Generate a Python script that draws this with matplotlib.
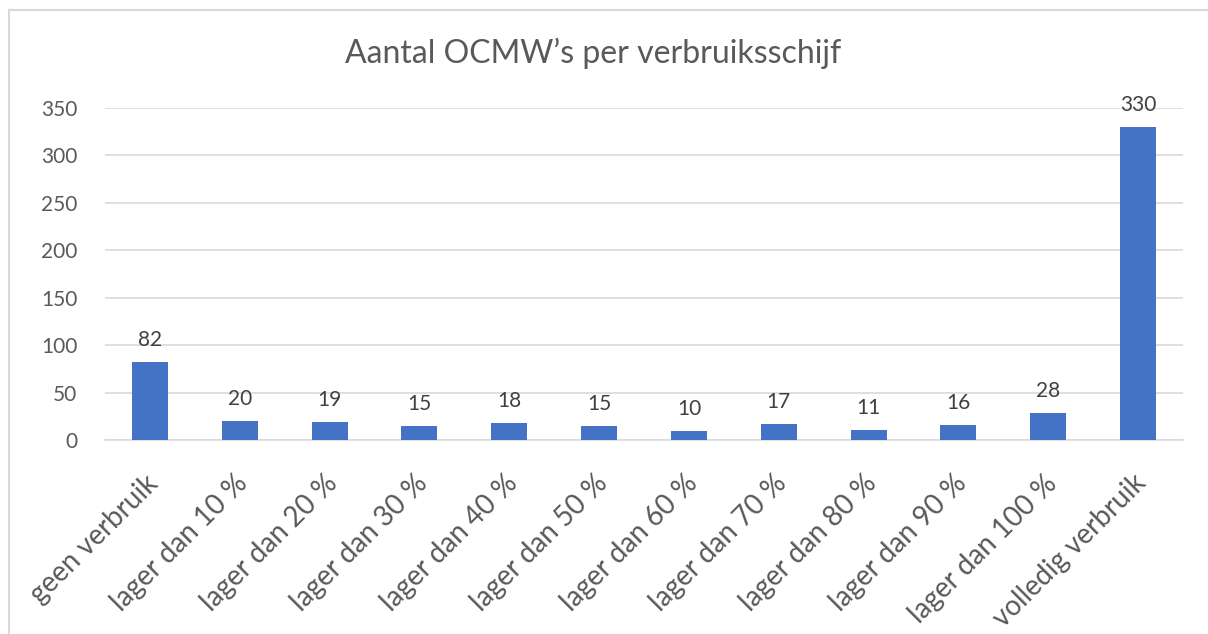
import matplotlib
matplotlib.use("Agg")
import matplotlib.pyplot as plt
from matplotlib.lines import Line2D
import matplotlib.transforms as mtransforms

categories = ["geen verbruik", "lager dan 10 %", "lager dan 20 %", "lager dan 30 %",
              "lager dan 40 %", "lager dan 50 %", "lager dan 60 %", "lager dan 70 %",
              "lager dan 80 %", "lager dan 90 %", "lager dan 100 %", "volledig verbruik"]
values = [82, 20, 19, 15, 18, 15, 10, 17, 11, 16, 28, 330]
yticks = [0, 50, 100, 150, 200, 250, 300, 350]
title = "Aantal OCMW\u2019s per verbruiksschijf"

W, H = 1208, 634
fig = plt.figure(figsize=(W / 100, H / 100), dpi=100)
plt.rcParams['font.family'] = ['Lato', 'DejaVu Sans']

ax = fig.add_axes([105 / W, 1 - 440 / H, (1183 - 105) / W, (440 - 108) / H])
x = list(range(len(categories)))
ax.bar(x, values, width=0.4, color="#4472C4", zorder=3)
ax.set_xlim(-0.5, len(categories) - 0.5)
ax.set_ylim(0, 350)
ax.set_yticks(yticks)
ax.set_yticklabels([str(t) for t in yticks], fontsize=15, color="#595959")
ax.grid(axis="y", color="#d9d9d9", linewidth=1.2, zorder=0)
for s in ["top", "right", "left"]:
    ax.spines[s].set_visible(False)
ax.spines["bottom"].set_color("#d9d9d9")
ax.spines["bottom"].set_linewidth(1.2)
ax.tick_params(axis="y", length=0, pad=20)
ax.tick_params(axis="x", length=0, pad=0)
ax.set_xticks(x)
ax.set_xticklabels(categories, fontsize=20, color="#595959", rotation=45,
                   ha="right", va="top", rotation_mode="anchor")
offset = mtransforms.ScaledTranslation(-5 / 100, -30 / 100, fig.dpi_scale_trans)
for lab in ax.get_xticklabels():
    lab.set_transform(lab.get_transform() + offset)

for xi, v in zip(x, values):
    ax.annotate(str(v), (xi, v), xytext=(0, 12), textcoords="offset pixels",
                ha="center", va="bottom", fontsize=15, color="#404040")

fig.text(593 / W, 1 - 53 / H, title, ha="center", va="center", fontsize=23, color="#595959")

# chart border
fig.add_artist(Line2D([9 / W, 9 / W], [0, 1 - 10 / H], color="#d9d9d9", linewidth=1.5,
                      transform=fig.transFigure))
fig.add_artist(Line2D([9 / W, 1], [1 - 10 / H, 1 - 10 / H], color="#d9d9d9", linewidth=1.5,
                      transform=fig.transFigure))

fig.savefig("out.png", dpi=100, facecolor="white")
